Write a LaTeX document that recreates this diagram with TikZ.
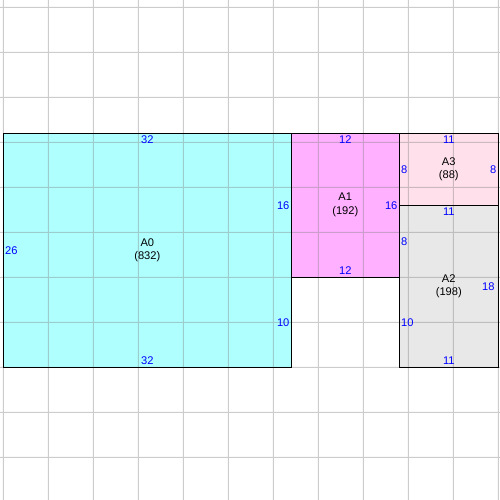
\documentclass[tikz,border=0pt]{standalone}
\usepackage{fontspec}
\setmainfont{Liberation Sans}
\usetikzlibrary{positioning}

\definecolor{fillzero}{RGB}{176,255,255}
\definecolor{fillone}{RGB}{255,176,255}
\definecolor{filltwo}{RGB}{232,232,232}
\definecolor{fillthree}{RGB}{255,224,235}

\begin{document}
\begin{tikzpicture}[
        x=0.25cm, y=-0.25cm,
        font=\fontsize{8.8}{11}\selectfont,
        gridline/.style={draw=gray, line width=0.8pt},
        area/.style={draw=black, line width=0.9pt},
        areaname/.style={align=center, text=black},
        side/.style={text=blue, inner xsep=1.3pt, inner ysep=2pt}
    ]
    \useasboundingbox (-0.37,-14.81) rectangle (55.19,40.74);

    % fills
    \fill[fillzero] (0,0) rectangle (32,26);
    \fill[fillone] (32,0) rectangle (44,16);
    \fill[fillthree] (44,0) rectangle (55,8);
    \fill[filltwo] (44,8) rectangle (55,26);

    % grid
    \begin{scope}[transparency group, opacity=0.4]
        \foreach \gx in {0,5,...,55}
            \draw[gridline] (\gx,-14.81) -- (\gx,40.74);
        \foreach \gy in {-14,-9,...,36}
            \draw[gridline] (-0.37,\gy) -- (55.19,\gy);
    \end{scope}

    % borders
    \draw[area] (0,0) rectangle (32,26);
    \draw[area] (32,0) rectangle (44,16);
    \draw[area] (44,0) rectangle (55,8);
    \draw[area] (44,8) rectangle (55,26);

    % A0
    \node[areaname] (a0) at (16,13) {A0\\(832)};
    \node[side, anchor=north] (a0top) at (16,0) {32};
    \node[side, anchor=south] (a0bottom) at (16,26) {32};
    \node[side, anchor=west] (a0left) at (0,13) {26};
    \node[side, anchor=east] (a0rightup) at (32,8) {16};
    \node[side, anchor=east] (a0rightdown) at (32,21) {10};

    % A1
    \node[areaname] (a1) at (38,8) {A1\\(192)};
    \node[side, anchor=north] (a1top) at (38,0) {12};
    \node[side, anchor=south] (a1bottom) at (38,16) {12};
    \node[side, anchor=east] (a1right) at (44,8) {16};

    % A3
    \node[areaname] (a3) at (49.5,4) {A3\\(88)};
    \node[side, anchor=north] (a3top) at (49.5,0) {11};
    \node[side, anchor=west] (a3left) at (44,4) {8};
    \node[side, anchor=east] (a3right) at (55,4) {8};

    % A2
    \node[areaname] (a2) at (49.5,17) {A2\\(198)};
    \node[side, anchor=north] (a2top) at (49.5,8) {11};
    \node[side, anchor=south] (a2bottom) at (49.5,26) {11};
    \node[side, anchor=west] (a2leftup) at (44,12) {8};
    \node[side, anchor=west] (a2leftdown) at (44,21) {10};
    \node[side, anchor=east, inner xsep=2.8pt] (a2right) at (55,17) {18};
\end{tikzpicture}
\end{document}
